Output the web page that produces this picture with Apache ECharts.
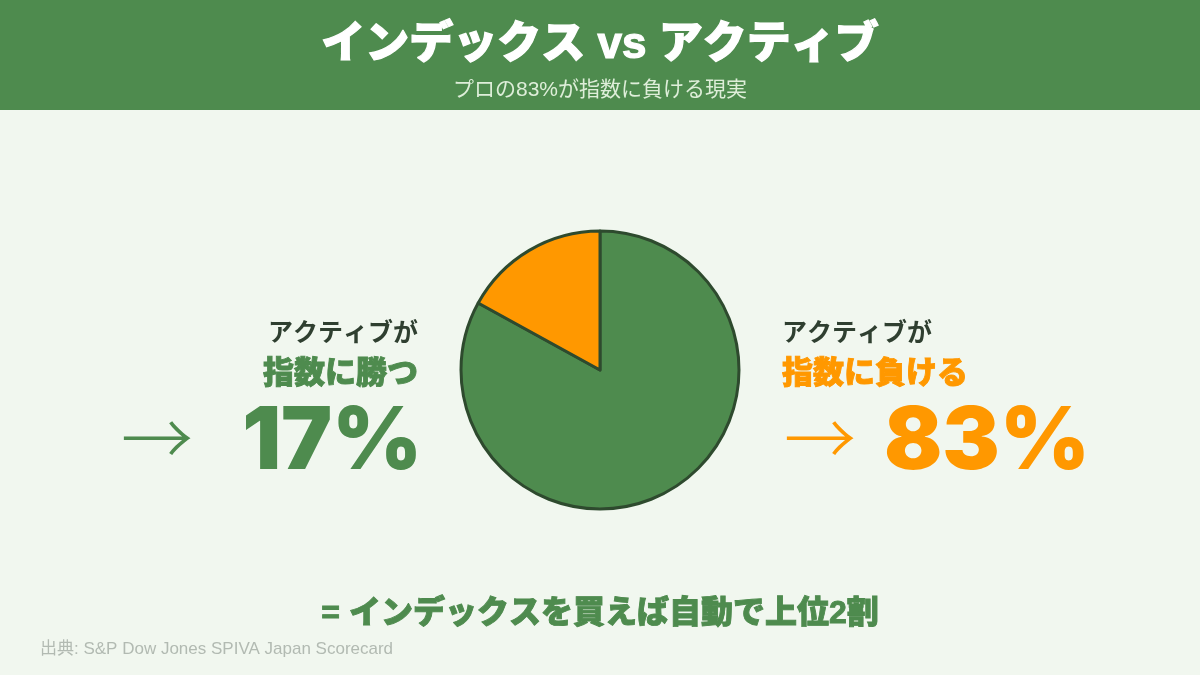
<!DOCTYPE html>
<html>
<head>
<meta charset="utf-8">
<script src="https://cdn.jsdelivr.net/npm/echarts@6/dist/echarts.min.js"></script>
<style>
  html, body { margin: 0; padding: 0; background: #f1f7ef; }
  #chart { width: 1200px; height: 675px; }
</style>
</head>
<body>
<div id="chart"></div>
<script>
// データ
const sliceNames = ['指数に負ける', '指数に勝つ']
const sliceValues = [83, 17]
const sliceColors = ['#4e8b4e', '#ff9800']
const winPct = '17%'
const losePct = '83%'

const green = '#4e8b4e'
const orange = '#ff9800'
const dark = '#2f3f30'
const jp = "'Liberation Sans', 'Noto Sans CJK JP', sans-serif"
const num = "Inter, 'Liberation Sans', sans-serif"

// 太字を少し太く見せるための縁取り
const heavy = (text, x, y, size, color, align, bw, family) => ({
  type: 'text', x, y,
  style: {
    text, fill: color, font: `900 ${size}px ${family || jp}`, align, verticalAlign: 'middle',
    stroke: color, lineWidth: bw
  }
})

const chart = echarts.init(document.getElementById('chart'))

chart.setOption({
  backgroundColor: '#f1f7ef',
  graphic: [
    // ヘッダー
    { type: 'rect', left: 0, top: 0, shape: { width: 1200, height: 110 }, style: { fill: green } },
    heavy('インデックス vs アクティブ', 600, 46, 44, '#fff', 'center', 1.2),
    { type: 'text', x: 600, y: 90, style: { text: 'プロの83%が指数に負ける現実', fill: '#deeed9', font: `400 21px ${jp}`, align: 'center', verticalAlign: 'middle' } },

    // 左側
    { type: 'text', x: 418, y: 334, style: { text: 'アクティブが', fill: dark, font: `700 25px ${jp}`, align: 'right', verticalAlign: 'middle' } },
    heavy('指数に勝つ', 418, 374, 31, green, 'right', 0.9),
    { type: 'text', x: 157, y: 438, style: { text: '→', fill: green, font: `300 72px 'Noto Sans CJK JP', sans-serif`, align: 'center', verticalAlign: 'middle' } },
    heavy(winPct, 422, 443, 86, green, 'right', 0, num),

    // 右側
    { type: 'text', x: 782, y: 334, style: { text: 'アクティブが', fill: dark, font: `700 25px ${jp}`, align: 'left', verticalAlign: 'middle' } },
    heavy('指数に負ける', 782, 374, 31, orange, 'left', 0.9),
    { type: 'text', x: 820, y: 438, style: { text: '→', fill: orange, font: `300 72px 'Noto Sans CJK JP', sans-serif`, align: 'center', verticalAlign: 'middle' } },
    heavy(losePct, 884, 443, 86, orange, 'left', 0, num),

    // 下部
    heavy('= インデックスを買えば自動で上位2割', 600, 614, 32, green, 'center', 0.9),
    { type: 'text', x: 40, y: 649, style: { text: '出典: S&P Dow Jones SPIVA Japan Scorecard', fill: '#b2bab2', font: `400 17px ${jp}`, align: 'left', verticalAlign: 'middle' } }
  ],
  series: [{
    type: 'pie',
    center: [600, 370],
    radius: [0, 139],
    startAngle: 90,
    clockwise: true,
    silent: true,
    label: { show: false },
    labelLine: { show: false },
    itemStyle: { borderColor: '#2e4a2e', borderWidth: 3 },
    data: sliceNames.map((n, i) => ({ name: n, value: sliceValues[i], itemStyle: { color: sliceColors[i] } }))
  }]
})
</script>
</body>
</html>
